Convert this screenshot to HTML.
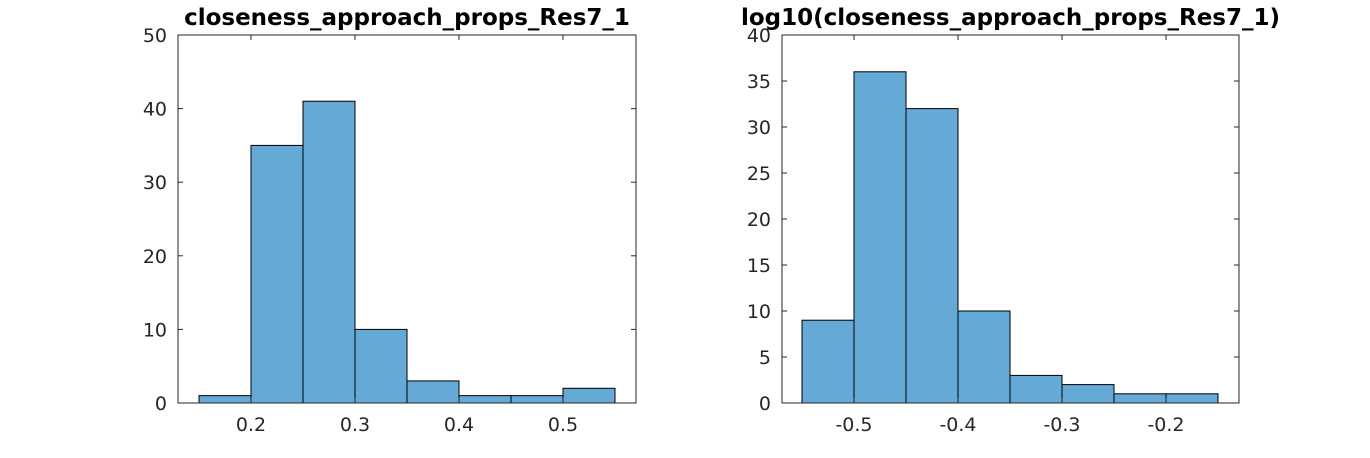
<!DOCTYPE html>
<html><head><meta charset="utf-8"><style>
body{margin:0;background:#fff;}
svg text{font-family:"DejaVu Sans","Liberation Sans",sans-serif;fill:#262626;}
</style></head><body>
<svg id="chart" width="1370" height="453" xmlns="http://www.w3.org/2000/svg"></svg>
<script>
const leftEdges=[0.15,0.2,0.25,0.3,0.35,0.4,0.45,0.5,0.55];
const leftCounts=[1,35,41,10,3,1,1,2];
const leftXTicks=[0.2,0.3,0.4,0.5];
const leftYTicks=[0,10,20,30,40,50];
const rightEdges=[-0.55,-0.5,-0.45,-0.4,-0.35,-0.3,-0.25,-0.2,-0.15];
const rightCounts=[9,36,32,10,3,2,1,1];
const rightXTicks=[-0.5,-0.4,-0.3,-0.2];
const rightYTicks=[0,5,10,15,20,25,30,35,40];
const NS="http://www.w3.org/2000/svg";
const svg=document.getElementById('chart');
function mk(t,a,p){const e=document.createElementNS(NS,t);for(const k in a)e.setAttribute(k,a[k]);(p||svg).appendChild(e);return e;}
function panel(cfg){
 const g=mk('g',{});
 
 
 const X=v=>cfg.x0+(v-cfg.xmin)/(cfg.xmax-cfg.xmin)*(cfg.x1-cfg.x0);
 const Y=v=>cfg.y1-(v-cfg.ymin)/(cfg.ymax-cfg.ymin)*(cfg.y1-cfg.y0);
 mk('rect',{x:cfg.x0,y:cfg.y0,width:cfg.x1-cfg.x0,height:cfg.y1-cfg.y0,fill:'#fff'},g);
 cfg.counts.forEach((c,i)=>{
  const r=mk('rect',{x:X(cfg.edges[i]),y:Y(c),width:X(cfg.edges[i+1])-X(cfg.edges[i]),height:Y(0)-Y(c),fill:'#65a9d7',stroke:'#000','stroke-width':1},g);
  
  
 });
 const ax=mk('rect',{x:cfg.x0,y:cfg.y0,width:cfg.x1-cfg.x0,height:cfg.y1-cfg.y0,fill:'none',stroke:'#262626','stroke-width':1},g);
 
 
 cfg.xticks.forEach(v=>{
  const x=X(v);
  mk('line',{x1:x,x2:x,y1:cfg.y1,y2:cfg.y1-5,stroke:'#262626'},g);
  mk('line',{x1:x,x2:x,y1:cfg.y0,y2:cfg.y0+5,stroke:'#262626'},g);
  const t=mk('text',{x:x,y:cfg.y1+28,'text-anchor':'middle','font-size':19},g);
  t.textContent=String(v);
  
  
 });
 cfg.yticks.forEach(v=>{
  const y=Y(v);
  mk('line',{x1:cfg.x0,x2:cfg.x0+5,y1:y,y2:y,stroke:'#262626'},g);
  mk('line',{x1:cfg.x1,x2:cfg.x1-5,y1:y,y2:y,stroke:'#262626'},g);
  const t=mk('text',{x:cfg.x0-11,y:y+7,'text-anchor':'end','font-size':19},g);
  t.textContent=String(v);
  
  
 });
 const tt=mk('text',{x:(cfg.x0+cfg.x1)/2,y:cfg.y0-10,'text-anchor':'middle','font-size':23,'font-weight':'bold'},g);
 tt.style.fill='#000';
 tt.textContent=cfg.title;
 
 
}
panel({name:'left-histogram',x0:178,x1:636,y0:35,y1:403,xmin:0.2-73/1040,xmax:0.5+73/1040,ymin:0,ymax:50,edges:leftEdges,counts:leftCounts,xticks:leftXTicks,yticks:leftYTicks,title:'closeness_approach_props_Res7_1'});
panel({name:'right-histogram',x0:782,x1:1239,y0:35,y1:403,xmin:-0.5-72/1040,xmax:-0.2+73/1040,ymin:0,ymax:40,edges:rightEdges,counts:rightCounts,xticks:rightXTicks,yticks:rightYTicks,title:'log10(closeness_approach_props_Res7_1)'});
</script>
</body></html>
